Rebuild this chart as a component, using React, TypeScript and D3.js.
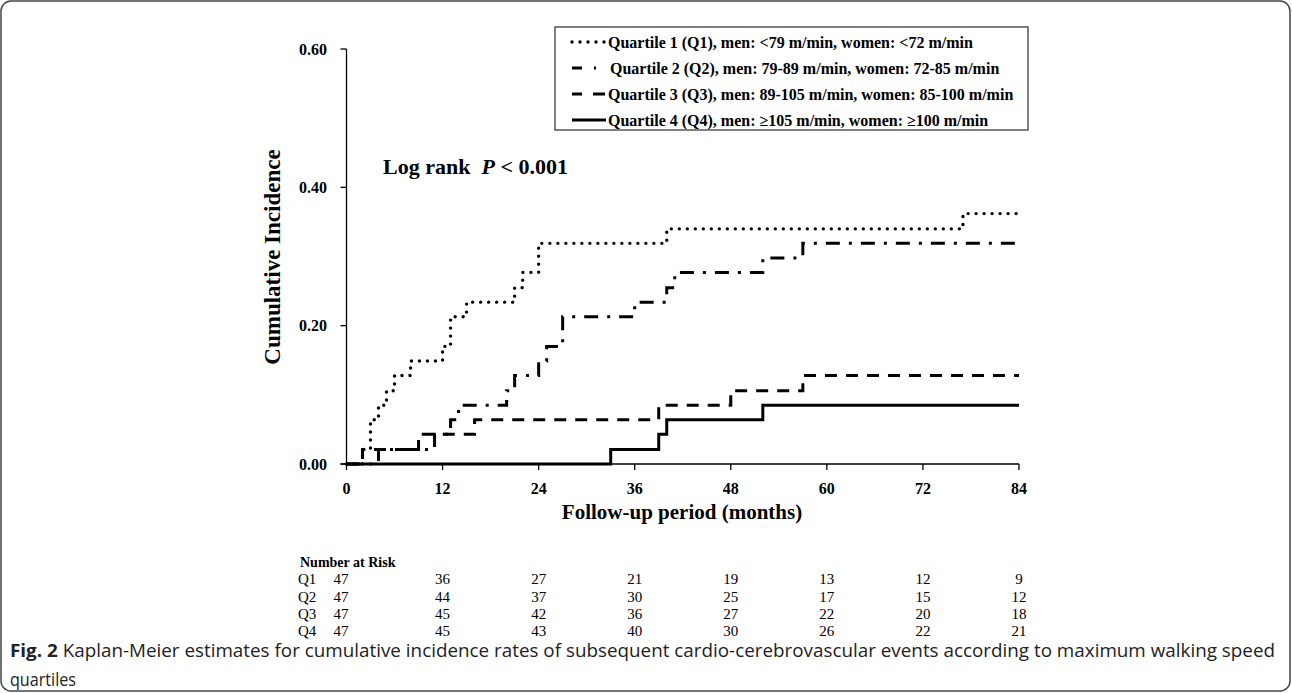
import React from 'react'
import * as d3 from 'd3'

// follow-up months on the x axis
const monthTicks = [0, 12, 24, 36, 48, 60, 72, 84]
const incidenceTicks = [0, 0.2, 0.4, 0.6]

// Kaplan-Meier step points (month of event, cumulative incidence after it)
const q1Times = [0, 2, 3, 4, 5, 6, 8, 12, 13, 15, 21, 22, 24, 40, 77, 84]
const q1Values = [0, 0.021, 0.064, 0.085, 0.106, 0.128, 0.149, 0.17, 0.213, 0.234, 0.255, 0.277, 0.319, 0.34, 0.362, 0.362]
const q2Times = [0, 4, 11, 13, 14, 20, 21, 24, 25, 27, 36, 40, 41, 52, 57, 84]
const q2Values = [0, 0.021, 0.043, 0.064, 0.085, 0.106, 0.128, 0.149, 0.17, 0.213, 0.234, 0.255, 0.277, 0.298, 0.319, 0.319]
const q3Times = [0, 2, 9, 16, 39, 48, 57, 84]
const q3Values = [0, 0.021, 0.043, 0.064, 0.085, 0.106, 0.128, 0.128]
const q4Times = [0, 33, 39, 40, 52, 84]
const q4Values = [0, 0.021, 0.043, 0.064, 0.085, 0.085]

const legendLabels = [
	'Quartile 1 (Q1), men: <79 m/min, women: <72 m/min',
	'Quartile 2 (Q2), men: 79-89 m/min, women: 72-85 m/min',
	'Quartile 3 (Q3), men: 89-105 m/min, women: 85-100 m/min',
	'Quartile 4 (Q4), men: \u2265105 m/min, women:  \u2265100 m/min',
]

// number at risk
const riskGroups = ['Q1', 'Q2', 'Q3', 'Q4']
const riskQ1 = [47, 36, 27, 21, 19, 13, 12, 9]
const riskQ2 = [47, 44, 37, 30, 25, 17, 15, 12]
const riskQ3 = [47, 45, 42, 36, 27, 22, 20, 18]
const riskQ4 = [47, 45, 43, 40, 30, 26, 22, 21]

const serif = '"Liberation Serif", "Times New Roman", serif'

function App() {
	const width = 1292
	const height = 693

	const x = d3.scaleLinear().domain([0, 84]).range([346.5, 1019])
	const y = d3.scaleLinear().domain([0, 0.6]).range([464, 49])

	const step = d3
		.line<[number, number]>()
		.x((d) => x(d[0]))
		.y((d) => y(d[1]))
		.curve(d3.curveStepAfter)

	const series = [
		{ times: q1Times, values: q1Values, dash: '0 8', cap: 'round', w: 3.4, legendDash: '0 8' },
		{ times: q2Times, values: q2Values, dash: '14 9 3 9', cap: 'butt', w: 3, legendDash: '10 12 2 30' },
		{ times: q3Times, values: q3Values, dash: '12 9', cap: 'butt', w: 3, legendDash: '10 11 12' },
		{ times: q4Times, values: q4Values, dash: 'none', cap: 'butt', w: 3, legendDash: 'none' },
	]
	const risk = [riskQ1, riskQ2, riskQ3, riskQ4]
	const fmt = d3.format('.2f')

	return (
		<svg
			width={width}
			height={height}
			style={{ position: 'absolute', left: 0, top: 0, display: 'block', background: '#fff' }}
		>
			<rect x={1} y={1} width={1289} height={690} rx={10} fill="none" stroke="#444" strokeWidth={1.5} />

			{/* axes */}
			<g stroke="#000" strokeWidth={1.3} fill="none">
				<line x1={x(0)} x2={x(0)} y1={y(0.6)} y2={y(0)} />
				<line x1={x(0) - 6} x2={x(84)} y1={y(0)} y2={y(0)} />
				{incidenceTicks.map((t) => (
					<line key={t} x1={x(0) - 6} x2={x(0)} y1={y(t)} y2={y(t)} />
				))}
				{monthTicks.map((t) => (
					<line key={t} x1={x(t)} x2={x(t)} y1={y(0)} y2={y(0) + 6} />
				))}
			</g>
			<g fontFamily={serif} fontWeight="bold" fontSize={16}>
				{incidenceTicks.map((t) => (
					<text key={t} x={327} y={y(t)} dy="0.35em" textAnchor="end">
						{fmt(t)}
					</text>
				))}
				{monthTicks.map((t) => (
					<text key={t} x={x(t)} y={488} dy="0.35em" textAnchor="middle">
						{t}
					</text>
				))}
			</g>
			<text
				x={682}
				y={512}
				dy="0.35em"
				textAnchor="middle"
				fontFamily={serif}
				fontWeight="bold"
				fontSize={21}
			>
				Follow-up period (months)
			</text>
			<text
				transform="translate(272,257) rotate(-90)"
				dy="0.35em"
				textAnchor="middle"
				fontFamily={serif}
				fontWeight="bold"
				fontSize={23}
			>
				Cumulative Incidence
			</text>

			{/* curves */}
			{series.map((s, i) => (
				<path
					key={i}
					d={step(s.times.map((t, j) => [t, s.values[j]] as [number, number])) || ''}
					fill="none"
					stroke="#000"
					strokeWidth={s.w}
					strokeDasharray={s.dash}
					strokeLinecap={s.cap as any}
				/>
			))}

			<text x={383} y={174} fontFamily={serif} fontWeight="bold" fontSize={22}>
				Log rank{'\u00a0\u00a0'}
				<tspan fontStyle="italic">P</tspan> {'< 0.001'}
			</text>

			{/* legend */}
			<rect x={555} y={27} width={473} height={103} fill="#fff" stroke="#555" strokeWidth={1.5} />
			{series.map((s, i) => {
				const cy = 42 + i * 26
				return (
					<g key={i}>
						<line
							x1={572}
							x2={606}
							y1={cy}
							y2={cy}
							stroke="#000"
							strokeWidth={s.w}
							strokeDasharray={s.legendDash}
							strokeLinecap={s.cap as any}
						/>
						<text
							x={i === 1 ? 610 : 608}
							y={cy}
							dy="0.35em"
							fontFamily={serif}
							fontWeight="bold"
							fontSize={16}
						>
							{legendLabels[i]}
						</text>
					</g>
				)
			})}

			{/* number at risk */}
			<g fontFamily={serif} fontSize={15}>
				<text x={300} y={562} dy="0.35em" fontWeight="bold" fontSize={14}>
					Number at Risk
				</text>
				{riskGroups.map((g, i) => (
					<g key={g}>
						<text x={298} y={579 + i * 17.4} dy="0.35em">
							{g}
						</text>
						{risk[i].map((v, j) => (
							<text
								key={j}
								x={j === 0 ? 341 : x(monthTicks[j])}
								y={579 + i * 17.4}
								dy="0.35em"
								textAnchor="middle"
							>
								{v}
							</text>
						))}
					</g>
				))}
			</g>

			{/* caption */}
			<g fontFamily='"Open Sans", "Noto Sans", sans-serif' fontSize={18} fill="#222">
				<text x={10} y={657} textLength={1265} lengthAdjust="spacingAndGlyphs">
					<tspan fontWeight="bold">Fig. 2</tspan> Kaplan-Meier estimates for cumulative incidence rates of
					subsequent cardio-cerebrovascular events according to maximum walking speed
				</text>
				<text x={10} y={686} textLength={66} lengthAdjust="spacingAndGlyphs">
					quartiles
				</text>
			</g>
		</svg>
	)
}

export default App
